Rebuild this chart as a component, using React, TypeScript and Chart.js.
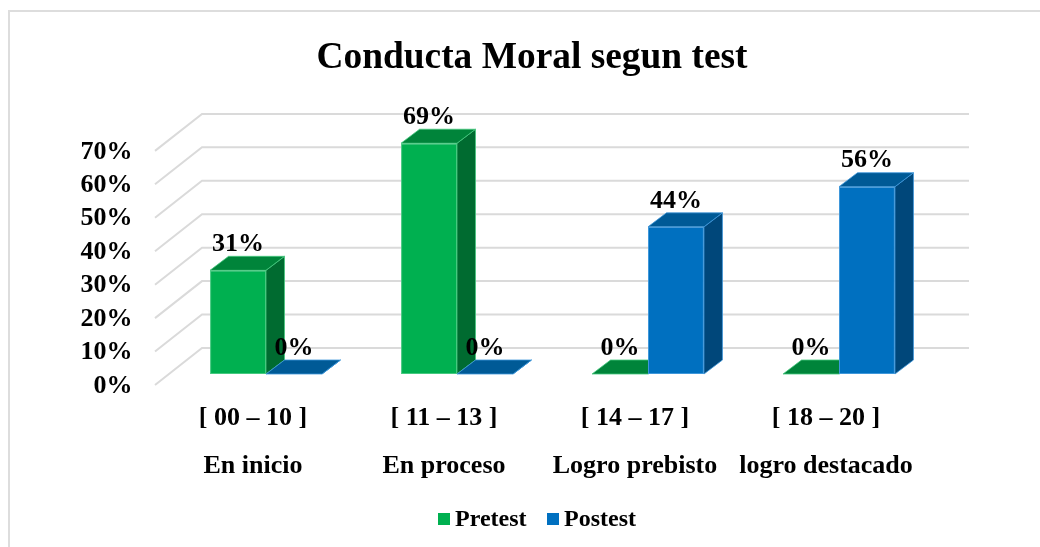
import React, { useEffect, useRef } from "react";
import { Chart, registerables } from "chart.js";

Chart.register(...registerables);

const categoryRanges = ["[ 00 – 10 ]", "[ 11 – 13 ]", "[ 14 – 17 ]", "[ 18 – 20 ]"];
const categoryNames = ["En inicio", "En proceso", "Logro prebisto", "logro destacado"];
const pretest = [31, 69, 0, 0];
const postest = [0, 0, 44, 56];
const titleText = "Conducta Moral segun test";
const seriesNames = ["Pretest", "Postest"];
const frontColors = ["#00B050", "#0070C0"];
const topColors = ["#00843A", "#005A96"];
const sideColors = ["#006B30", "#00477A"];
const edgeColors = ["#45C97F", "#3F97DA"];
const FONT = '"Liberation Serif", "Times New Roman", serif';

const poly = (ctx: CanvasRenderingContext2D, pts: number[][], fill: string, edge: string) => {
  ctx.beginPath();
  pts.forEach((p, i) => (i ? ctx.lineTo(p[0], p[1]) : ctx.moveTo(p[0], p[1])));
  ctx.closePath();
  ctx.fillStyle = fill;
  ctx.fill();
  ctx.strokeStyle = edge;
  ctx.lineWidth = 0.8;
  ctx.stroke();
};

const scene3d = {
  id: "scene3d",
  beforeDraw(chart: any) {
    const c = chart.ctx as CanvasRenderingContext2D;
    c.save();
    c.strokeStyle = "#DDDDDD";
    c.lineWidth = 2;
    c.beginPath();
    c.moveTo(1040, 11);
    c.lineTo(9, 11);
    c.lineTo(9, 547);
    c.stroke();
    c.restore();
  },
  beforeDatasetsDraw(chart: any) {
    const c = chart.ctx as CanvasRenderingContext2D;
    const y = chart.scales.y;
    c.save();
    c.strokeStyle = "#DADADA";
    c.lineWidth = 2;
    y.ticks.forEach((t: any) => {
      const p = y.getPixelForValue(t.value);
      c.beginPath();
      c.moveTo(155, p + 11);
      c.lineTo(202, p - 26);
      c.lineTo(969, p - 26);
      c.stroke();
    });
    const dx = 18.5;
    const dy = 14;
    [0, 1].forEach((ds) => {
      chart.getDatasetMeta(ds).data.forEach((bar: any) => {
        const { x, y: top, base, width } = bar.getProps(["x", "y", "base", "width"], true);
        const l = x - width / 2;
        const r = x + width / 2;
        poly(c, [[r, top], [r + dx, top - dy], [r + dx, base - dy], [r, base]], sideColors[ds], edgeColors[ds]);
        poly(c, [[l, top], [l + dx, top - dy], [r + dx, top - dy], [r, top]], topColors[ds], edgeColors[ds]);
      });
    });
    c.restore();
  },
  afterDatasetsDraw(chart: any) {
    const c = chart.ctx as CanvasRenderingContext2D;
    c.save();
    c.fillStyle = "#000";
    c.font = `bold 26px ${FONT}`;
    c.textAlign = "center";
    c.textBaseline = "middle";
    [0, 1].forEach((ds) => {
      chart.getDatasetMeta(ds).data.forEach((bar: any, i: number) => {
        const { x, y: top } = bar.getProps(["x", "y"], true);
        c.fillText(`${chart.data.datasets[ds].data[i]}%`, x, top - 26);
      });
    });
    // legend
    c.font = `bold 24px ${FONT}`;
    c.textAlign = "left";
    const boxX = [438, 547];
    const textX = [455, 564];
    seriesNames.forEach((name, i) => {
      c.fillStyle = frontColors[i];
      c.fillRect(boxX[i], 513, 12, 12);
      c.fillStyle = "#000";
      c.fillText(name, textX[i], 520);
    });
    c.restore();
  },
};

export default function App() {
  const ref = useRef<HTMLCanvasElement | null>(null);
  useEffect(() => {
    document.body.style.margin = "0";
    const chart = new Chart(ref.current as HTMLCanvasElement, {
      type: "bar",
      data: {
        labels: categoryRanges.map((r, i) => [r, categoryNames[i]]),
        datasets: [
          { label: seriesNames[0], data: pretest, backgroundColor: frontColors[0], borderColor: edgeColors[0], borderWidth: 1, borderSkipped: false },
          { label: seriesNames[1], data: postest, backgroundColor: frontColors[1], borderColor: edgeColors[1], borderWidth: 1, borderSkipped: false },
        ],
      },
      options: {
        responsive: false,
        animation: false,
        layout: { autoPadding: false, padding: { left: 24, right: 0, top: 0, bottom: 0 } },
        datasets: { bar: { categoryPercentage: 0.586, barPercentage: 1 } },
        plugins: {
          legend: { display: false },
          tooltip: { enabled: false },
          title: {
            display: true,
            text: titleText,
            color: "#000",
            font: { family: FONT, size: 37.4, weight: "bold" },
            padding: { top: 36, bottom: 59 },
          },
        },
        scales: {
          x: {
            grid: { display: false },
            border: { display: false },
            afterFit: (s: any) => { s.height = 173; },
            ticks: {
              color: "#000",
              font: { family: FONT, size: 26, weight: "bold", lineHeight: "48px" },
              padding: 12,
              labelOffset: -13,
              maxRotation: 0,
              autoSkip: false,
            },
          },
          y: {
            min: 0,
            max: 70,
            grid: { display: false, drawTicks: false },
            border: { display: false },
            afterFit: (s: any) => { s.width = 146.5; },
            ticks: {
              stepSize: 10,
              autoSkip: false,
              color: "#000",
              font: { family: FONT, size: 26, weight: "bold" },
              padding: 38,
              labelOffset: 12,
              callback: (v: any) => `${v}%`,
            },
          },
          rightGap: {
            position: "right",
            display: true,
            grid: { display: false },
            border: { display: false },
            ticks: { display: false },
            afterFit: (s: any) => { s.width = 105.5; },
          },
        },
      },
      plugins: [scene3d],
    } as any);
    return () => chart.destroy();
  }, []);
  return (
    <div style={{ width: 1040, height: 547, background: "#fff" }}>
      <canvas ref={ref} width={1040} height={547} style={{ display: "block" }} />
    </div>
  );
}
